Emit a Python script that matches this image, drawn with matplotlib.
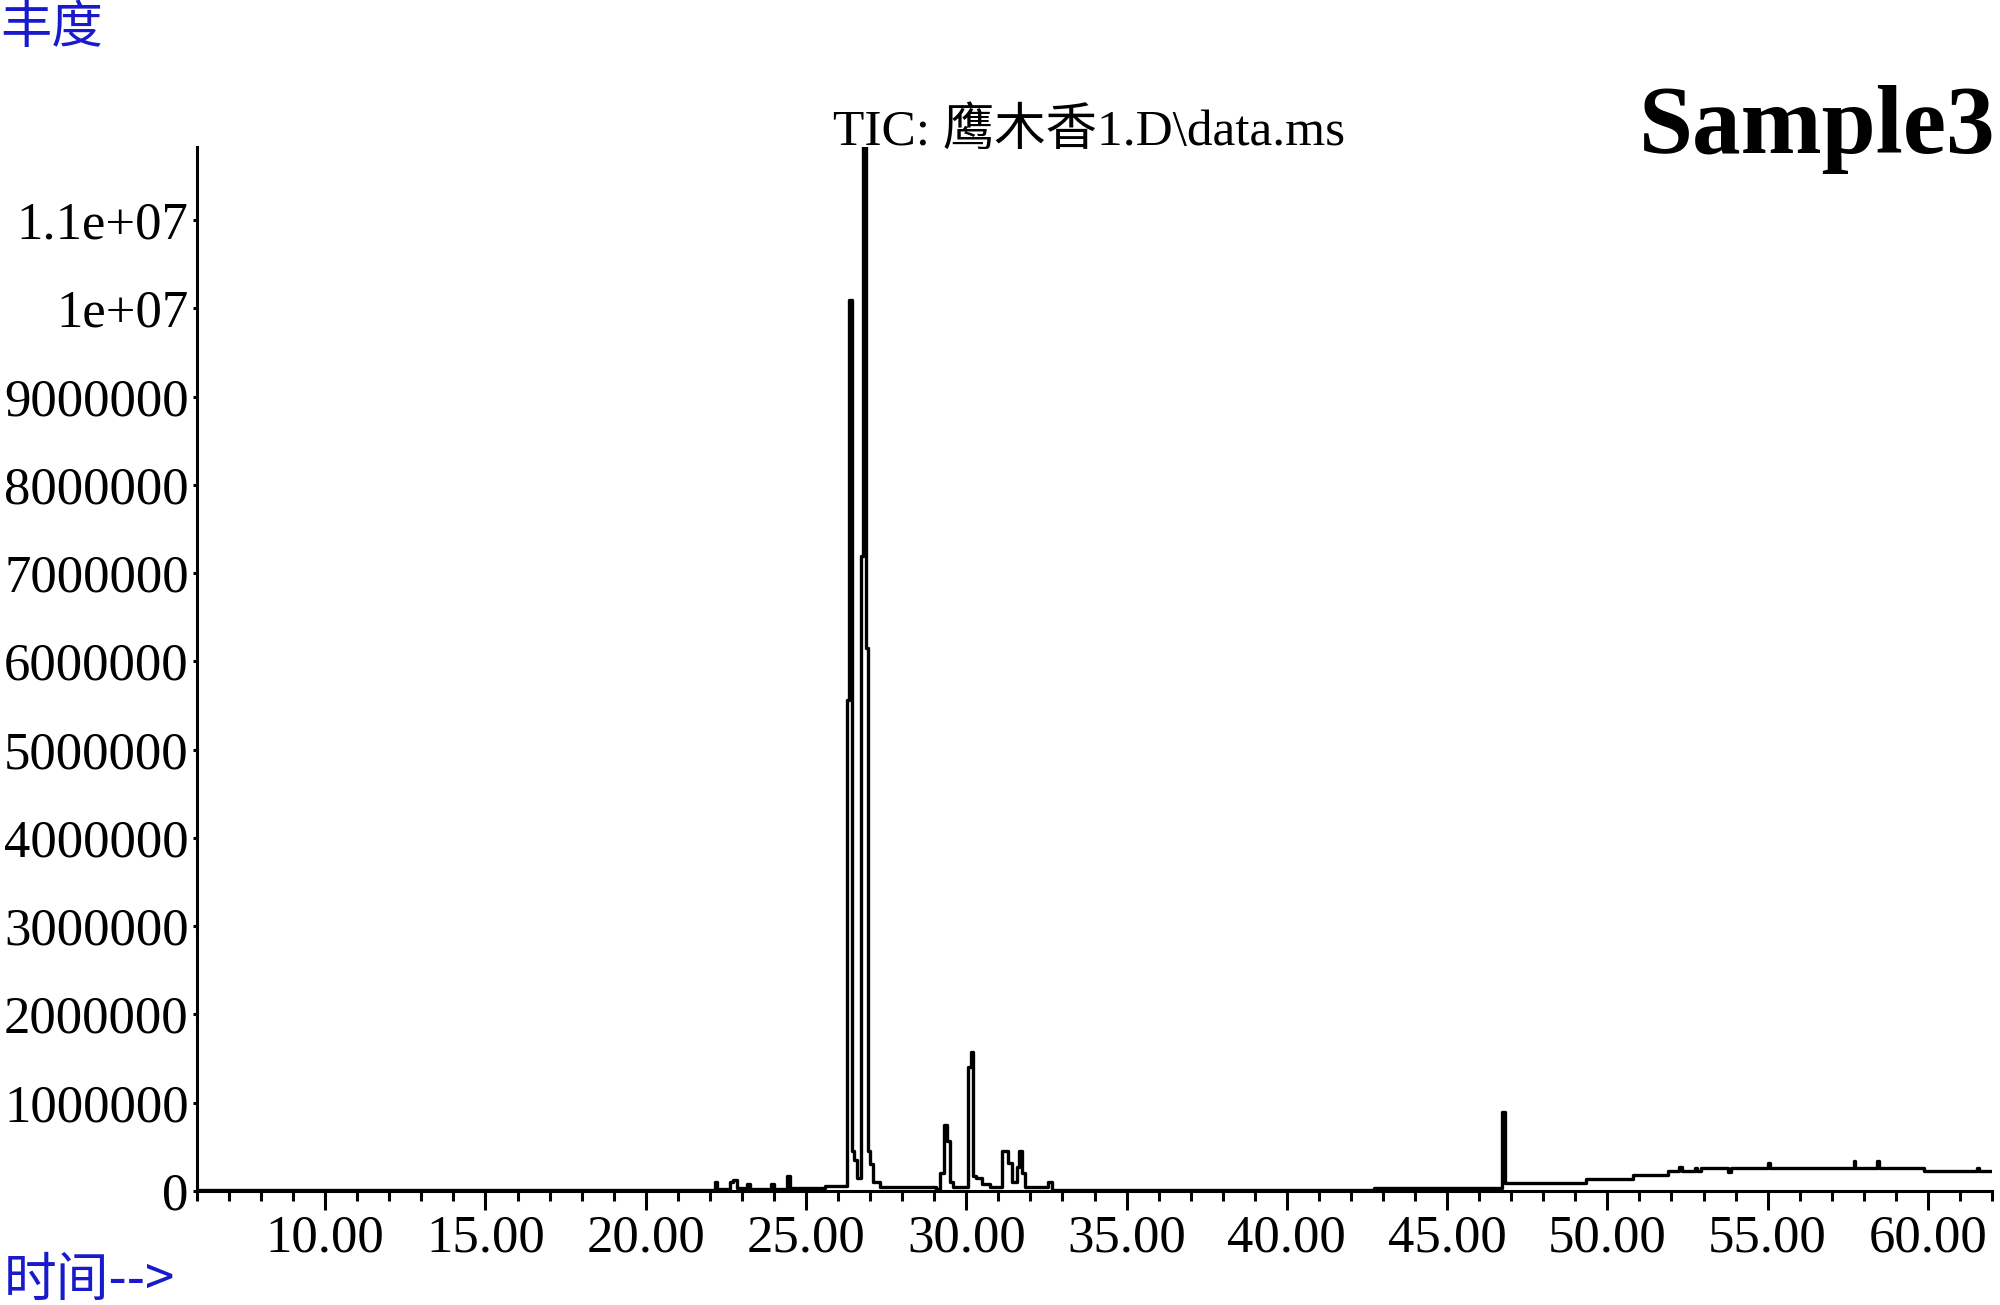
import matplotlib.pyplot as plt
from matplotlib.ticker import MultipleLocator, FixedLocator, FixedFormatter

# retention time (min) and abundance (counts)
time = [6.0, 21.9, 22.15, 22.22, 22.62, 22.72, 22.85, 23.15, 23.25, 23.9, 24.0,
        24.4, 24.5, 25.59, 26.27, 26.33, 26.42, 26.50, 26.58, 26.70, 26.78, 26.86,
        26.92, 27.0, 27.1, 27.3, 28.9, 29.05, 29.18, 29.32, 29.41, 29.49, 29.6,
        30.06, 30.14, 30.22, 30.29, 30.5, 30.74, 31.10, 31.29, 31.44, 31.57, 31.64,
        31.73, 31.82, 32.56, 32.66, 42.73, 46.70, 46.80, 49.34, 50.80, 51.89, 52.24,
        52.32, 52.74, 52.80, 52.92, 53.75, 53.85, 55.0, 55.06, 57.68, 57.74, 58.40,
        58.48, 59.89, 61.52, 61.58, 62.0]
abundance = [10000, 10000, 100000, 20000, 100000, 120000, 30000, 80000, 20000, 80000, 20000,
             170000, 30000, 60000, 5560000, 10100000, 450000, 350000, 150000, 7200000, 11830000, 6150000,
             450000, 300000, 100000, 50000, 50000, 20000, 200000, 750000, 570000, 100000, 50000,
             1400000, 1580000, 170000, 150000, 80000, 50000, 450000, 320000, 100000, 270000, 450000,
             200000, 50000, 100000, 10000, 30000, 890000, 85000, 135000, 175000, 230000, 270000,
             230000, 260000, 230000, 260000, 210000, 260000, 320000, 260000, 340000, 260000, 340000,
             260000, 230000, 265000, 230000, 230000]

x_major = [10, 15, 20, 25, 30, 35, 40, 45, 50, 55, 60]
y_ticks = [0, 1e6, 2e6, 3e6, 4e6, 5e6, 6e6, 7e6, 8e6, 9e6, 1e7, 1.1e7]
y_labels = ['0', '1000000', '2000000', '3000000', '4000000', '5000000', '6000000',
            '7000000', '8000000', '9000000', '1e+07', '1.1e+07']

serif = ['Liberation Serif', 'Noto Sans CJK SC']
cjk = ['Noto Sans CJK SC', 'DejaVu Sans']
blue = '#1a1acd'

fig = plt.figure(figsize=(20, 13.05), dpi=100)
ax = fig.add_axes([0.0985, 0.0874, 0.8975, 0.8])

ax.plot(time, abundance, color='black', linewidth=2.4, drawstyle='steps-post')

ax.set_xlim(6.0, 62.0)
ax.set_ylim(0, 11.83e6)

for side in ['top', 'right']:
    ax.spines[side].set_visible(False)
for side in ['left', 'bottom']:
    ax.spines[side].set_linewidth(2.2)

ax.xaxis.set_major_locator(FixedLocator(x_major))
ax.xaxis.set_major_formatter(FixedFormatter(['%.2f' % v for v in x_major]))
ax.xaxis.set_minor_locator(MultipleLocator(1))
ax.yaxis.set_major_locator(FixedLocator(y_ticks))
ax.yaxis.set_major_formatter(FixedFormatter(y_labels))

ax.tick_params(axis='x', which='major', length=14, width=2.2, pad=3)
ax.tick_params(axis='x', which='minor', length=7, width=2.2)
ax.tick_params(axis='y', which='major', length=3, width=2.2, pad=3)
for lab in ax.get_xticklabels() + ax.get_yticklabels():
    lab.set_family('Liberation Serif')
    lab.set_fontsize(38)

fig.text(0.0, 0.999, '丰度', family=cjk, fontsize=37, color=blue,
         ha='left', va='top')
fig.text(0.002, 1 - 1280 / 1305, '时间-->', family=cjk, fontsize=38, color=blue,
         ha='left', va='center')
fig.text(1089 / 2000, 1 - 145 / 1305, 'TIC: 鹰木香1.D\\data.ms', family=serif,
         fontsize=37, ha='center', va='baseline')
fig.text(0.998, 1 - 153 / 1305, 'Sample3', family='Liberation Serif', fontsize=70,
         fontweight='bold', ha='right', va='baseline')

fig.savefig('out.png', dpi=100)
